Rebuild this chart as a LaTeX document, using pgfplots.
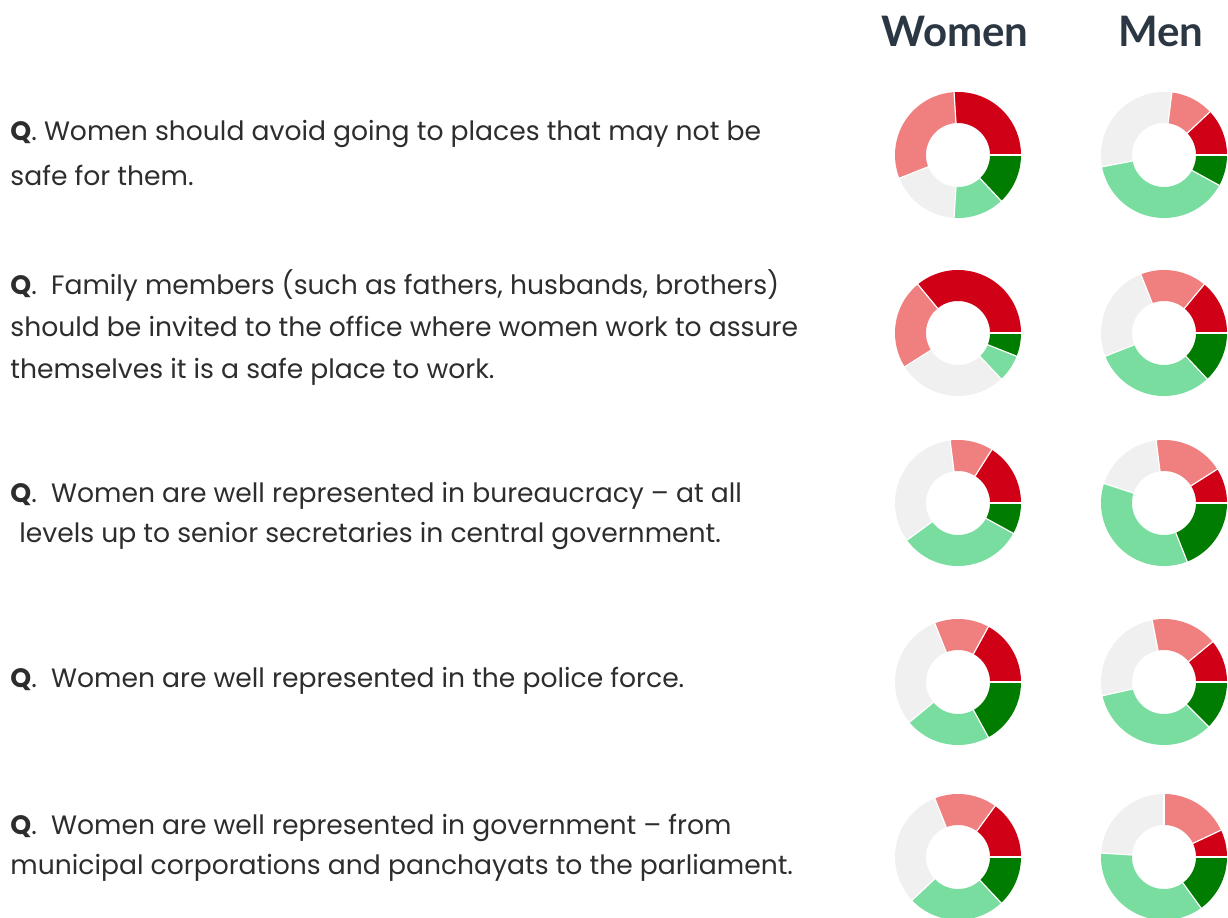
\documentclass[border=0pt]{standalone}
\usepackage{pgfplots}
\pgfplotsset{compat=1.18}
\usepackage{pgfplotstable}
\usepackage{fontspec}
\setmainfont{Poppins}
\newfontfamily\lato{Lato}

\definecolor{cDR}{RGB}{208,0,22}
\definecolor{cLR}{RGB}{240,128,128}
\definecolor{cGR}{RGB}{240,240,240}
\definecolor{cLG}{RGB}{122,221,160}
\definecolor{cDG}{RGB}{0,125,0}
\definecolor{txt}{RGB}{45,45,45}
\definecolor{hdr}{RGB}{44,55,68}

% shares (%) going counter-clockwise from 3 o'clock:
% dr = dark red, lr = light red, gr = grey, lg = light green, dg = dark green
\pgfplotstableread{
cx   cy  dr  lr  gr   lg  dg
958  762 26  30  18   13  13
1164 762 12  11  30   39  8
958  584 36  23  28   7   6
1164 584 14  17  25   31  13
958  414 16  11  33   32  8
1164 414 9   18  18   36  19
958  235 17  14  30   22  17
1164 235 11  17  25.5 34  12.5
958  60  15  16  31   25  13
1164 60  7   18  24   36  15
}\donuts

\newcommand\seg[2]{%
  \pgfplotstablegetelem{\rowidx}{#1}\of\donuts
  \pgfmathsetmacro\endang{\startang+3.6*\pgfplotsretval}%
  \edef\tmp{\noexpand\addplot[draw=#2, line width=15.5pt, domain=\startang:\endang, samples=61, variable=\noexpand\t] ({\cx+47.5*cos(\noexpand\t)},{\cy+47.5*sin(\noexpand\t)});}%
  \tmp
  \let\startang\endang
}
\newcommand\sepline{%
  \edef\tmp{\noexpand\addplot[draw=white, line width=0.6pt, domain=31.5:63.5, samples=2, variable=\noexpand\r] ({\cx+\noexpand\r*cos(\startang)},{\cy+\noexpand\r*sin(\startang)});}%
  \tmp
}
\newcommand\sepafter[1]{%
  \pgfplotstablegetelem{\rowidx}{#1}\of\donuts
  \pgfmathsetmacro\endang{\startang+3.6*\pgfplotsretval}%
  \let\startang\endang
  \sepline
}
\newcommand\donut[1]{%
  \def\rowidx{#1}%
  \pgfplotstablegetelem{#1}{cx}\of\donuts \let\cx\pgfplotsretval
  \pgfplotstablegetelem{#1}{cy}\of\donuts \let\cy\pgfplotsretval
  \def\startang{0}%
  \seg{dr}{cDR}\seg{lr}{cLR}\seg{gr}{cGR}\seg{lg}{cLG}\seg{dg}{cDG}%
  \def\startang{0}%
  \sepline
  \sepafter{dr}\sepafter{lr}\sepafter{gr}\sepafter{lg}%
}

\begin{document}
\begin{tikzpicture}
\path[use as bounding box] (0,0) rectangle (614pt,458.5pt);
\begin{axis}[
  at={(0,0)}, anchor=south west,
  x=0.5pt, y=0.5pt, xmin=0, xmax=1228, ymin=0, ymax=917,
  scale only axis, hide axis, clip=true,
]
\donut{0}\donut{1}\donut{2}\donut{3}\donut{4}
\donut{5}\donut{6}\donut{7}\donut{8}\donut{9}

\tikzset{qtext/.style={anchor=base west, inner sep=0pt, text=txt, font=\fontsize{13.3}{16}\selectfont}}
\node[anchor=base, inner sep=0pt, text=hdr, font=\lato\bfseries\fontsize{21}{24}\selectfont] at (axis cs:955,870) {Women};
\node[anchor=base, inner sep=0pt, text=hdr, font=\lato\bfseries\fontsize{21}{24}\selectfont] at (axis cs:1161,870) {Men};

\node[qtext] at (axis cs:10,776) {\textbf{Q}. Women should avoid going to places that may not be};
\node[qtext] at (axis cs:10,731) {safe for them.};

\node[qtext] at (axis cs:10,622) {\textbf{Q}.\ \ Family members (such as fathers, husbands, brothers)};
\node[qtext] at (axis cs:10,580) {should be invited to the office where women work to assure};
\node[qtext] at (axis cs:10,538) {themselves it is a safe place to work.};

\node[qtext] at (axis cs:10,414) {\textbf{Q}.\ \ Women are well represented in bureaucracy -- at all};
\node[qtext] at (axis cs:19,374) {levels up to senior secretaries in central government.};

\node[qtext] at (axis cs:10,229) {\textbf{Q}.\ \ Women are well represented in the police force.};

\node[qtext] at (axis cs:10,83) {\textbf{Q}.\ \ Women are well represented in government -- from};
\node[qtext] at (axis cs:10,42) {municipal corporations and panchayats to the parliament.};
\end{axis}
\end{tikzpicture}
\end{document}
